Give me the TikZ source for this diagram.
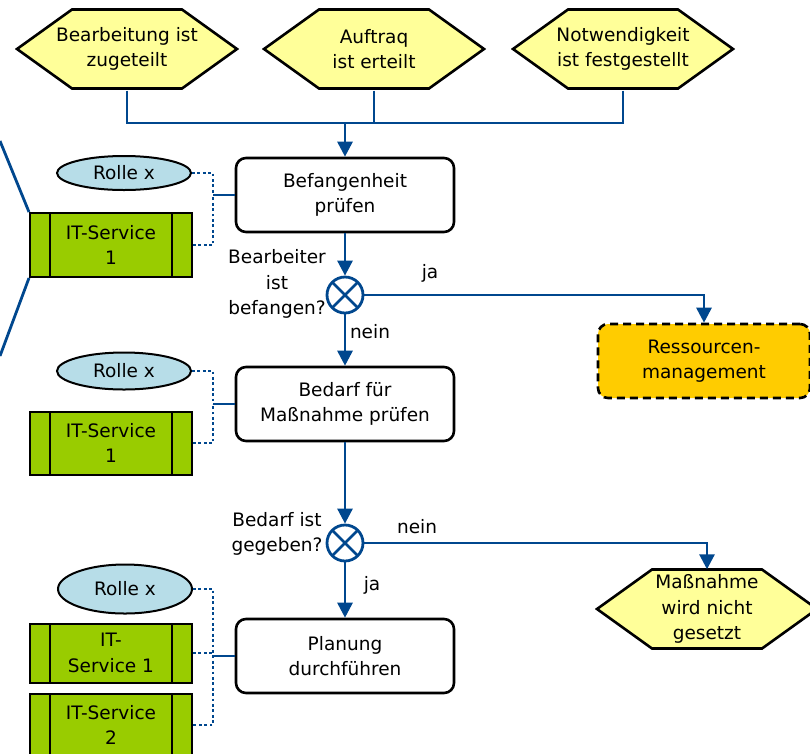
\documentclass[tikz,border=0pt]{standalone}
\usepackage{fontspec}
\setmainfont{DejaVu Sans}
\usetikzlibrary{shapes.geometric,arrows.meta}
\definecolor{eventyellow}{RGB}{255,255,153}
\definecolor{flowblue}{RGB}{0,71,142}
\definecolor{rolecyan}{RGB}{183,221,232}
\definecolor{itgreen}{RGB}{153,204,0}
\definecolor{ifgold}{RGB}{255,204,0}
\tikzstyle{event} = [rectangle, minimum width=224pt, minimum height=83pt, inner sep=0pt, align=center,
  path picture={\draw[line width=2.6pt, fill=eventyellow] ([xshift=2pt]path picture bounding box.west)
    -- ([xshift=57pt,yshift=-2pt]path picture bounding box.north west) -- ([xshift=-57pt,yshift=-2pt]path picture bounding box.north east)
    -- ([xshift=-2pt]path picture bounding box.east) -- ([xshift=-57pt,yshift=2pt]path picture bounding box.south east)
    -- ([xshift=57pt,yshift=2pt]path picture bounding box.south west) -- cycle;}]
\tikzstyle{function} = [rectangle, rounded corners=10pt, minimum width=218pt, minimum height=74pt, draw=black, line width=2.6pt, fill=white, align=center]
\tikzstyle{iface} = [function, dash pattern=on 8pt off 5pt, fill=ifgold, minimum width=212pt]
\tikzstyle{xorgate} = [circle, minimum size=36pt, inner sep=0pt, draw=flowblue, line width=2.8pt, fill=white,
  path picture={\draw[flowblue, line width=2.8pt] (path picture bounding box.north west) -- (path picture bounding box.south east)
    (path picture bounding box.north east) -- (path picture bounding box.south west);}]
\tikzstyle{role} = [ellipse, minimum width=134pt, minimum height=34pt, inner sep=0pt, draw=black, line width=2pt, fill=rolecyan]
\tikzstyle{itservice} = [rectangle, minimum width=162pt, minimum height=63pt, inner sep=0pt, draw=black, line width=2pt, fill=itgreen, align=center,
  path picture={\draw[line width=2pt] ([xshift=20pt]path picture bounding box.north west) -- ([xshift=20pt]path picture bounding box.south west)
    ([xshift=-20pt]path picture bounding box.north east) -- ([xshift=-20pt]path picture bounding box.south east);}]
\tikzstyle{flow} = [draw=flowblue, line width=2.8pt]
\tikzstyle{arrow} = [flow, -{Triangle[length=15pt,width=15pt]}]
\tikzstyle{assoc} = [draw=flowblue, line width=2.8pt, dash pattern=on 2.8pt off 2.6pt]

\begin{document}
\begin{tikzpicture}[x=1pt, y=-1pt, every node/.style={font=\fontsize{18.5pt}{25.5pt}\selectfont}]
\useasboundingbox (0,0) rectangle (810,753);
\clip (0,0) rectangle (810,753);
\fill[white] (0,0) rectangle (810,753);

% start events
\node[event] (ev1) at (127,49) {Bearbeitung ist\\zugeteilt};
\node[event] (ev2) at (374,49) {Auftraq\\ist erteilt};
\node[event] (ev3) at (623,49) {Notwendigkeit\\ist festgestellt};
\coordinate (join) at (345,123);

% process chain
\node[function] (fn1) at (345,195) {Befangenheit\\prüfen};
\node[xorgate] (g1) at (345,295) {};
\node[align=center] (q1) at (277,284) {Bearbeiter\\ist\\befangen?};
\node (ja1) at (430,273) {ja};
\node (nein1) at (370,332) {nein};
\node[iface] (res) at (704,361) {Ressourcen-\\management};
\node[function] (fn2) at (345,404) {Bedarf für\\Maßnahme prüfen};
\node[xorgate] (g2) at (345,543) {};
\node[align=center] (q2) at (277,534) {Bedarf ist\\gegeben?};
\node (nein2) at (417,527) {nein};
\node (ja2) at (372,585) {ja};
\node[event] (ev4) at (707,609) {Maßnahme\\wird nicht\\gesetzt};
\node[function] (fn3) at (345,656) {Planung\\durchführen};

% roles and IT services
\node[role] (ro1) at (124,173) {Rolle x};
\node[itservice, minimum height=64pt] (it1) at (111,245) {IT-Service\\1};
\node[role, minimum height=37pt] (ro2) at (124,371) {Rolle x};
\node[itservice] (it2) at (111,443) {IT-Service\\1};
\node[role, minimum height=49pt] (ro3) at (125,589) {Rolle x};
\node[itservice, minimum height=59pt] (it3) at (111,653) {IT-\\Service 1};
\node[itservice, minimum height=62pt] (it4) at (111,725) {IT-Service\\2};
\coordinate (bus1) at (213,195);
\coordinate (bus2) at (213,404);
\coordinate (bus3) at (213,656);
\coordinate (offa) at (0,141);
\coordinate (offb) at (0,356);

% control flow
\draw[flow] (ev1.south) |- (join);
\draw[flow] (ev3.south) |- (join);
\draw[flow] (ev2.south) -- (ev2.south |- join);
\draw[arrow] (join) -- (fn1.north);
\draw[arrow] (fn1.south) -- (g1.north);
\draw[arrow] (g1.east) -| (res.north);
\draw[arrow] (g1.south) -- (fn2.north);
\draw[arrow] (fn2.south) -- (g2.north);
\draw[arrow] (g2.east) -| ([yshift=-2pt]ev4.north);
\draw[arrow] (g2.south) -- (fn3.north);

% assignments
\draw[assoc] (ro1.east) -| (bus1);
\draw[assoc] (it1.east) -| (bus1);
\draw[flow] (bus1) -- (fn1.west);
\draw[assoc] (ro2.east) -| (bus2);
\draw[assoc] (it2.east) -| (bus2);
\draw[flow] (bus2) -- (fn2.west);
\draw[assoc] (ro3.east) -| (it4.east -| bus3) -- (it4.east);
\draw[assoc] (it3.east) -- (it3.east -| bus3);
\draw[flow] (bus3) -- (fn3.west);
\draw[flow] (it1.north west) -- (offa);
\draw[flow] (it1.south west) -- (offb);
\end{tikzpicture}
\end{document}
